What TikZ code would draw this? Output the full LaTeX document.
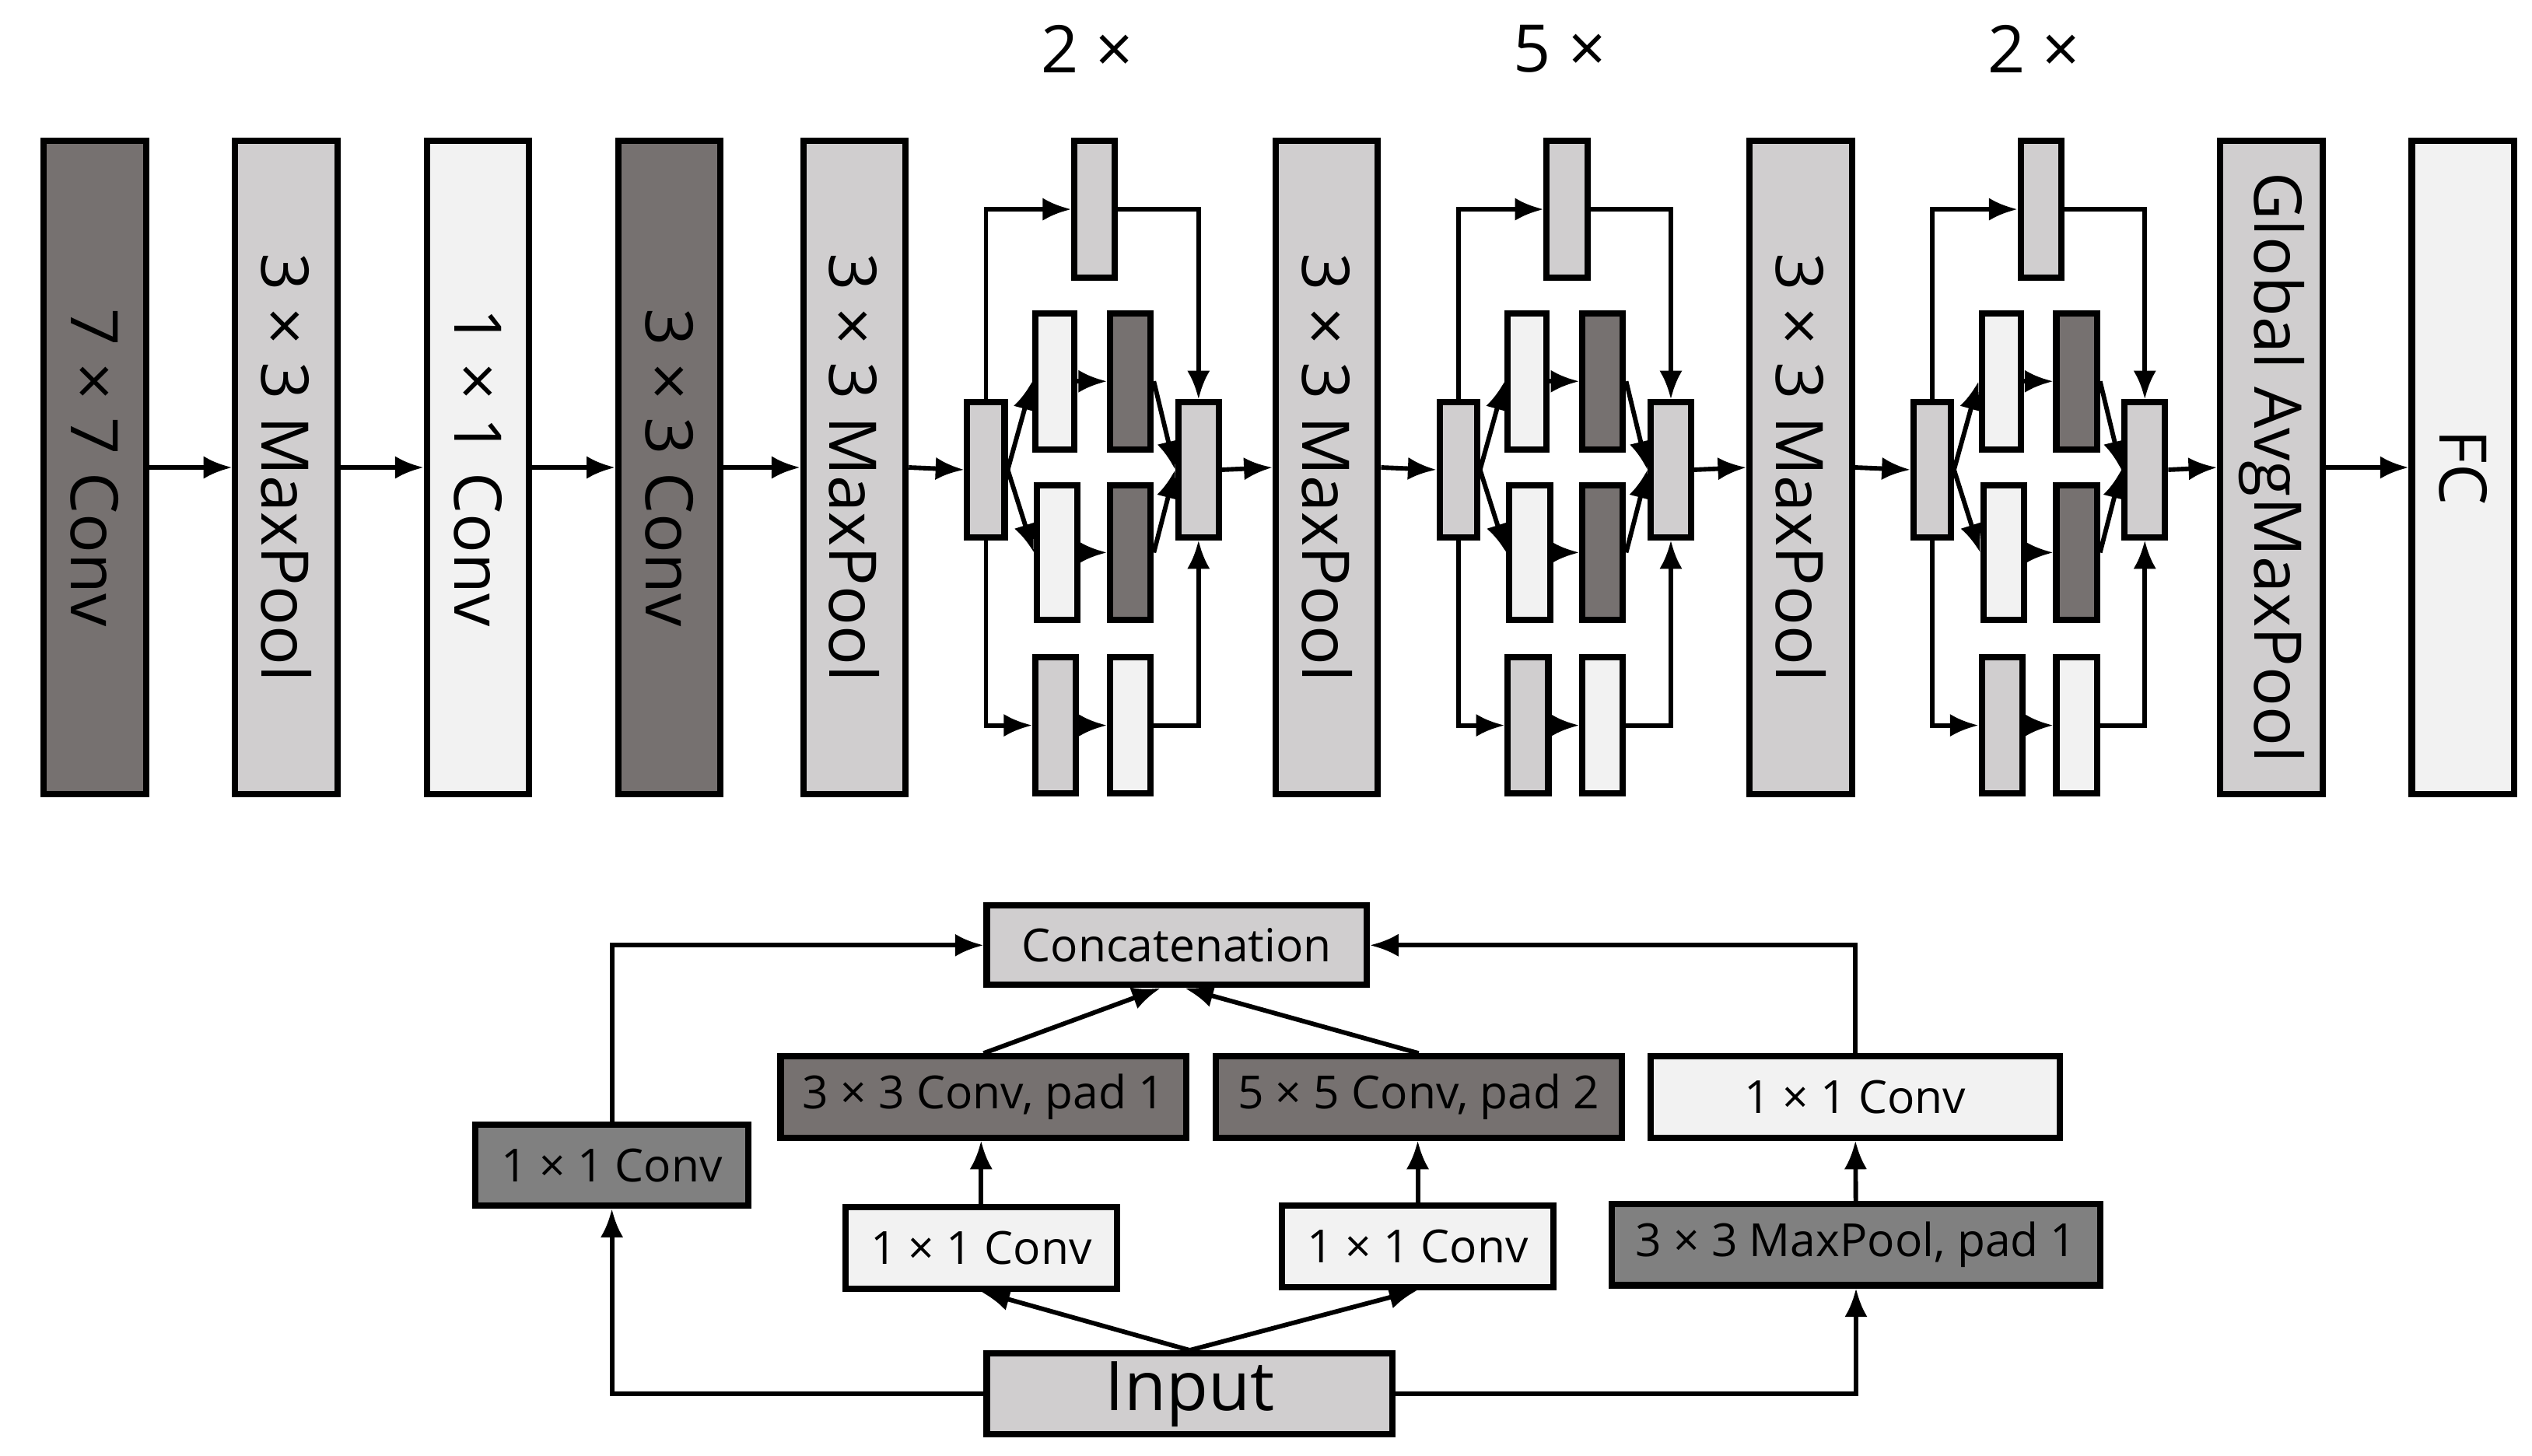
\documentclass[tikz,border=0pt]{standalone}
\usepackage{fontspec}
\setmainfont{Open Sans}
\usetikzlibrary{arrows.meta}
\definecolor{cdark}{RGB}{118,113,112}
\definecolor{cmid}{RGB}{128,128,128}
\definecolor{cgray}{RGB}{208,206,207}
\definecolor{clight}{RGB}{242,242,242}
\begin{document}
\begin{tikzpicture}[x=0.01cm,y=-0.01cm,
  box/.style={draw=black,line width=1.1pt,inner sep=0pt},
  big/.style={box,minimum width=0.63cm,minimum height=4.02cm,anchor=north west},
  vtxt/.style={font=\fontsize{11.5}{12}\selectfont,rotate=-90},
  btxt/.style={box,font=\fontsize{8}{9}\selectfont,minimum height=0.5cm,anchor=north west},
  arr/.style={line width=0.8pt,-{Latex[length=5pt,width=4pt]}},
  ln/.style={line width=0.8pt}]
\useasboundingbox (0,0) rectangle (1560,897);
% main row
\node[big,fill=cdark] (c7) at (25,85) {};
\node[vtxt] at (c7.center) {7 × 7 Conv};
\node[big,fill=cgray] (mp1) at (143,85) {};
\node[vtxt] at (mp1.center) {3 × 3 MaxPool};
\node[big,fill=clight] (c1) at (261,85) {};
\node[vtxt] at (c1.center) {1 × 1 Conv};
\node[big,fill=cdark] (c3) at (379,85) {};
\node[vtxt] at (c3.center) {3 × 3 Conv};
\node[big,fill=cgray] (mp2) at (493,85) {};
\node[vtxt] at (mp2.center) {3 × 3 MaxPool};
\node[big,fill=cgray] (mp3) at (784,85) {};
\node[vtxt] at (mp3.center) {3 × 3 MaxPool};
\node[big,fill=cgray] (mp4) at (1076,85) {};
\node[vtxt] at (mp4.center) {3 × 3 MaxPool};
\node[big,fill=cgray] (gap) at (1366,85) {};
\node[vtxt] at (gap.center) {Global AvgMaxPool};
\node[big,fill=clight] (fc) at (1484,85) {};
\node[vtxt] at (fc.center) {FC};
% inception blocks
\foreach \i/\dx/\rep in {1/0/2,2/291/5,3/583/2} {
  \begin{scope}[xshift=\dx*0.01cm]
    \node[font=\fontsize{11.5}{12}\selectfont] (rep\i) at (670,30) {\rep\ ×};
    \node[box,fill=cgray,minimum width=0.23cm,minimum height=0.83cm,anchor=north west] (in\i) at (594,246) {};
    \node[box,fill=cgray,minimum width=0.25cm,minimum height=0.84cm,anchor=north west] (tp\i) at (660,85) {};
    \node[box,fill=clight,minimum width=0.24cm,minimum height=0.84cm,anchor=north west] (ma\i) at (636,191) {};
    \node[box,fill=cdark,minimum width=0.25cm,minimum height=0.84cm,anchor=north west] (mb\i) at (682,191) {};
    \node[box,fill=clight,minimum width=0.25cm,minimum height=0.83cm,anchor=north west] (la\i) at (637,297) {};
    \node[box,fill=cdark,minimum width=0.25cm,minimum height=0.83cm,anchor=north west] (lb\i) at (682,297) {};
    \node[box,fill=cgray,minimum width=0.25cm,minimum height=0.84cm,anchor=north west] (ba\i) at (636,403) {};
    \node[box,fill=clight,minimum width=0.25cm,minimum height=0.84cm,anchor=north west] (bb\i) at (682,403) {};
    \node[box,fill=cgray,minimum width=0.25cm,minimum height=0.83cm,anchor=north west] (ct\i) at (724,246) {};
    \draw[arr] (in\i.north) |- (tp\i.west);
    \draw[arr] (tp\i.east) -| (ct\i.north);
    \draw[arr] (in\i.south) |- (ba\i.west);
    \draw[arr] (bb\i.east) -| (ct\i.south);
    \draw[arr] (ba\i) -- (bb\i);
    \draw[arr] (in\i.east) -- (ma\i.west);
    \draw[arr] (in\i.east) -- (la\i.west);
    \draw[arr] (ma\i) -- (mb\i);
    \draw[arr] (la\i) -- (lb\i);
    \draw[arr] (mb\i.east) -- (ct\i.west);
    \draw[arr] (lb\i.east) -- (ct\i.west);
  \end{scope}
}
\draw[arr] (c7) -- (mp1);
\draw[arr] (mp1) -- (c1);
\draw[arr] (c1) -- (c3);
\draw[arr] (c3) -- (mp2);
\draw[arr] (mp2.east) -- (in1.west);
\draw[arr] (ct1.east) -- (mp3.west);
\draw[arr] (mp3.east) -- (in2.west);
\draw[arr] (ct2.east) -- (mp4.west);
\draw[arr] (mp4.east) -- (in3.west);
\draw[arr] (ct3.east) -- (gap.west);
\draw[arr] (gap) -- (fc);
% module detail
\node[btxt,fill=cgray,minimum width=2.34cm,minimum height=0.49cm] (cat) at (606,556) {Concatenation};
\node[btxt,fill=cgray,minimum width=2.5cm,font=\fontsize{12}{13}\selectfont] (inp) at (606,832) {Input};
\node[btxt,fill=cmid,minimum width=1.68cm] (b1) at (291,691) {1 × 1 Conv};
\node[btxt,fill=cdark,minimum width=2.5cm] (b3) at (479,649) {3 × 3 Conv, pad 1};
\node[btxt,fill=cdark,minimum width=2.5cm] (b5) at (747,649) {5 × 5 Conv, pad 2};
\node[btxt,fill=clight,minimum width=2.52cm] (bp) at (1015,649) {1 × 1 Conv};
\node[btxt,fill=clight,minimum width=1.67cm] (r3) at (519,742) {1 × 1 Conv};
\node[btxt,fill=clight,minimum width=1.67cm] (r5) at (788,741) {1 × 1 Conv};
\node[btxt,fill=cmid,minimum width=3.01cm] (pool) at (991,740) {3 × 3 MaxPool, pad 1};
\draw[arr] (inp.west) -| (b1.south);
\draw[arr] (b1.north) |- (cat.west);
\draw[arr] (inp.north) -- (r3.south);
\draw[arr] (inp.north) -- (r5.south);
\draw[arr] (r3) -- (r3|-b3.south);
\draw[arr] (r5) -- (r5|-b5.south);
\draw[arr] (b3.north) -- ([xshift=-0.1cm]cat.south);
\draw[arr] (b5.north) -- ([xshift=0.05cm]cat.south);
\draw[arr] (bp.north) |- (cat.east);
\draw[arr] (pool) -- (bp);
\draw[arr] (inp.east) -| (pool.south);
\end{tikzpicture}
\end{document}
